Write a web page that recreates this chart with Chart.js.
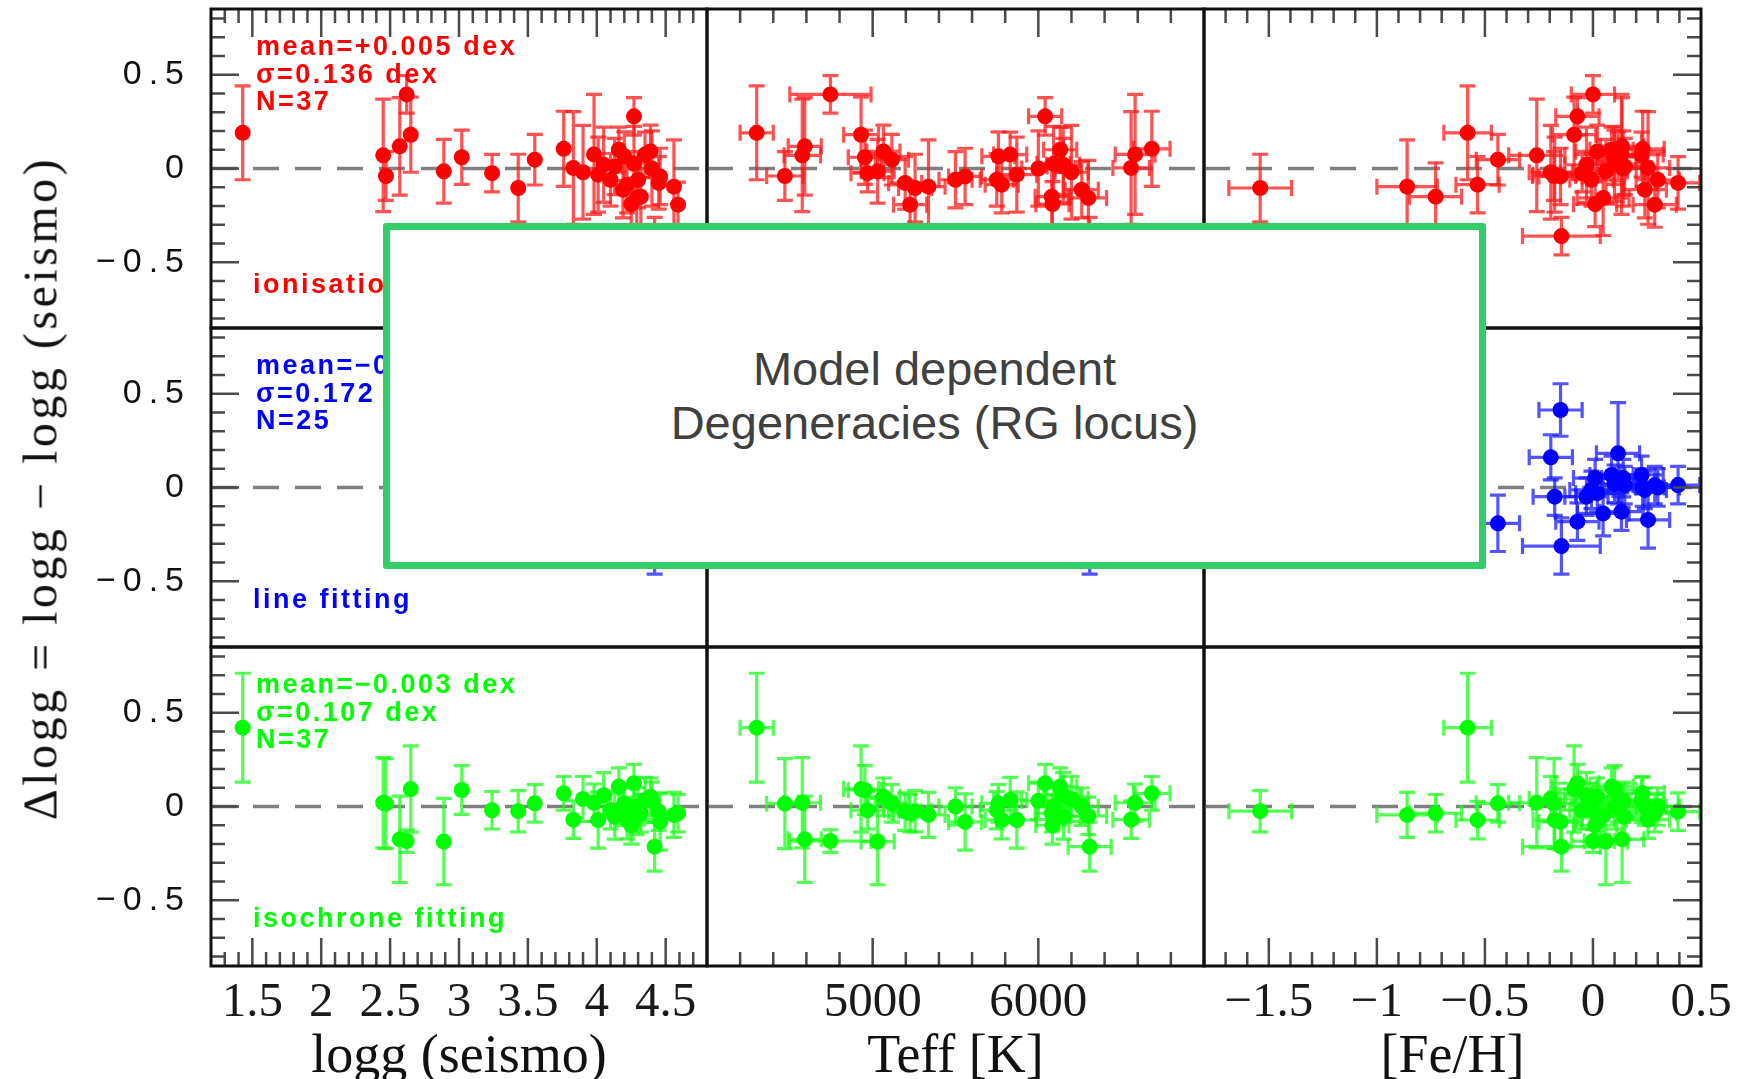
<!DOCTYPE html>
<html>
<head>
<meta charset="utf-8">
<script src="https://cdn.jsdelivr.net/npm/chart.js@4.4.1/dist/chart.umd.min.js"></script>
<style>
html,body{margin:0;padding:0;background:#fff;overflow:hidden;}
#wrap{position:relative;width:1742px;height:1079px;background:#fff;}
#wrap canvas{position:absolute;left:0;top:0;}
#ytitle{position:absolute;left:40px;top:488px;transform:translate(-50%,-50%) rotate(-90deg);font-family:"Liberation Serif";font-size:48px;letter-spacing:3.5px;white-space:nowrap;color:#111;z-index:5;}
#box{position:absolute;left:383px;top:223px;width:1103px;height:346px;box-sizing:border-box;border:7px solid #33cc66;border-radius:3px;background:#fff;display:flex;align-items:center;justify-content:center;text-align:center;font-family:"Liberation Sans";font-size:47px;line-height:54px;color:#404040;z-index:10;}
</style>
</head>
<body>
<div id="wrap">
  <div id="ytitle">Δlogg = logg − logg (seismo)</div>
  <div id="box"><div>Model dependent<br>Degeneracies (RG locus)</div></div>
</div>
<script>
// ---------------- DATA (one entry per star) ----------------
const logg    = [1.43,2.45,2.47,2.57,2.62,2.65,2.89,3.02,3.24,3.43,3.55,3.76,3.83,3.98,4.01,4.16,4.27,4.39,4.13,4.19,4.27,4.29,4.32,4.46,4.56,4.59,4.42,4.10,4.20,4.35,4.22,4.45,3.90,4.05,4.25,4.30,4.40];
const teff    = [4300,4575,4470,4590,4745,4930,5030,4953,4969,5256,5116,6685,6560,6584,5870,6132,6041,5065,6152,6262,6092,6302,6081,5558,5337,5226,6310,5749,5759,5830,5779,5196,6200,6150,6085,5500,6000];
const teffErr = [100,110,110,100,245,105,100,100,100,100,100,110,110,120,120,100,100,100,100,100,100,110,100,100,100,100,130,100,100,100,100,100,100,100,100,100,100];
const feh     = [-0.58,-0.26,-0.18,0.135,0.00,-0.087,0.06,0.10,-0.05,-1.54,-0.44,0.23,0.255,0.132,-0.177,0.086,-0.072,0.02,0.147,0.24,0.10,0.047,-0.728,-0.15,-0.86,0.286,-0.146,-0.007,0.116,0.225,-0.534,0.394,-0.195,-0.03,0.01,0.30,0.14];
const fehErr  = [0.11,0.13,0.10,0.10,0.10,0.10,0.10,0.10,0.10,0.145,0.10,0.10,0.10,0.10,0.10,0.10,0.10,0.10,0.10,0.10,0.10,0.12,0.12,0.10,0.14,0.10,0.18,0.10,0.10,0.10,0.10,0.10,0.10,0.10,0.10,0.10,0.10];
// Δlogg, ionisation balance (red)
const dIon    = [0.19,0.07,-0.04,0.118,0.395,0.18,-0.015,0.06,-0.025,-0.104,0.047,0.105,0.003,0.075,-0.033,0.10,0.278,0.091,0.011,-0.113,0.025,-0.157,-0.15,-0.042,-0.097,-0.193,-0.36,-0.06,0.065,0.074,-0.086,-0.077,-0.02,0.02,-0.19,-0.06,0.0];
const dIonErr = [0.25,0.30,0.13,0.26,0.10,0.20,0.17,0.145,0.10,0.18,0.135,0.20,0.30,0.32,0.20,0.12,0.10,0.14,0.15,0.15,0.20,0.20,0.18,0.15,0.25,0.12,0.10,0.14,0.13,0.12,0.15,0.14,0.25,0.20,0.12,0.15,0.20];
// Δlogg, line fitting (blue), null = not in subset
const dLine   = [null,null,null,null,null,null,null,null,null,null,-0.191,0.0,-0.173,-0.129,-0.049,0.067,-0.182,-0.03,0.013,-0.013,0.02,-0.138,-0.10,0.413,null,0.013,-0.312,-0.013,0.182,0.067,null,0.013,0.161,-0.049,0.05,0.0,0.05];
const dLineErr= [null,null,null,null,null,null,null,null,null,null,0.15,0.10,0.15,0.10,0.10,0.10,0.10,0.10,0.10,0.10,0.10,0.12,0.12,0.14,null,0.10,0.15,0.10,0.27,0.10,null,0.10,0.12,0.10,0.10,0.10,0.10];
// Δlogg, isochrone fitting (green)
const dIso    = [0.42,0.02,0.015,-0.175,-0.184,0.093,-0.187,0.088,-0.02,-0.025,0.017,0.07,-0.07,0.02,-0.072,0.106,0.124,0.052,-0.054,-0.001,-0.001,-0.05,-0.036,-0.082,-0.045,-0.036,-0.214,-0.019,0.017,0.035,-0.072,-0.027,0.04,0.06,-0.10,0.0,0.03];
const dIsoErr = [0.29,0.24,0.24,0.23,0.06,0.23,0.23,0.13,0.10,0.11,0.10,0.09,0.10,0.10,0.15,0.10,0.10,0.10,0.12,0.10,0.12,0.10,0.10,0.15,0.12,0.10,0.13,0.10,0.10,0.12,0.10,0.10,0.12,0.12,0.10,0.10,0.10];

// ---------------- TICKS / LABELS ----------------
const loggTicks = [1.5,2,2.5,3,3.5,4,4.5];
const loggTickLabels = ['1.5','2','2.5','3','3.5','4','4.5'];
const teffTicks = [5000,6000];
const teffTickLabels = ['5000','6000'];
const fehTicks = [-1.5,-1,-0.5,0,0.5];
const fehTickLabels = ['−1.5','−1','−0.5','0','0.5'];
const yTicks = [-0.5,0,0.5];
const yTickLabels = ['−0.5','0','0.5'];
const xTitles = ['logg (seismo)','Teff [K]','[Fe/H]'];
const ionNotes  = ['mean=+0.005 dex','σ=0.136 dex','N=37','ionisation balance'];
const lineNotes = ['mean=−0.046 dex','σ=0.172 dex','N=25','line fitting'];
const isoNotes  = ['mean=−0.003 dex','σ=0.107 dex','N=37','isochrone fitting'];

// ---------------- LAYOUT / STYLE ----------------
const W = 1742, H = 1079;
const colEdges = [211, 707, 1204, 1701];
const rowEdges = [9, 328, 647, 966];
const xAxes = [
  {min:1.2, max:4.8, major:loggTicks, labels:loggTickLabels, minorStep:0.1, vals:logg, errs:null},
  {min:4000, max:7000, major:teffTicks, labels:teffTickLabels, minorStep:200, vals:teff, errs:teffErr},
  {min:-1.8, max:0.5, major:fehTicks, labels:fehTickLabels, minorStep:0.1, vals:feh, errs:fehErr}
];
const rowsDef = [
  {y:dIon, e:dIonErr, color:'#ff0000', bar:'rgba(255,25,25,0.75)', notes:ionNotes, noteBase:284},
  {y:dLine, e:dLineErr, color:'#0000ff', bar:'rgba(25,25,255,0.75)', notes:lineNotes, noteBase:280},
  {y:dIso, e:dIsoErr, color:'#00ff00', bar:'rgba(25,255,25,0.75)', notes:isoNotes, noteBase:280}
];

function stepVals(min, max, step) {
  const out = [];
  const n = Math.round((max - min) / step);
  for (let k = 1; k < n; k++) out.push(min + k * step);
  return out;
}

const panelPlugin = {
  id: 'panel',
  beforeDraw(chart, args, o) {
    chart.ctx.letterSpacing = o.ySpacing;
  },
  beforeDatasetsDraw(chart, args, o) {
    const ctx = chart.ctx;
    ctx.letterSpacing = '0px';
    const {left, right, top, bottom} = chart.chartArea;
    const xs = chart.scales.x, ys = chart.scales.y;
    ctx.save();
    ctx.beginPath(); ctx.rect(left, top, right - left, bottom - top); ctx.clip();
    const y0 = ys.getPixelForValue(0);
    ctx.setLineDash([26, 16]); ctx.lineDashOffset = 0;
    ctx.strokeStyle = '#808080'; ctx.lineWidth = 3.5;
    ctx.beginPath(); ctx.moveTo(left, y0); ctx.lineTo(right, y0); ctx.stroke();
    ctx.setLineDash([]);
    chart.data.datasets.forEach((ds) => {
      ctx.strokeStyle = ds.barColor; ctx.lineWidth = 3.2;
      ds.data.forEach((p) => {
        const px = xs.getPixelForValue(p.x), py = ys.getPixelForValue(p.y);
        ctx.beginPath();
        if (p.ye) {
          const a = ys.getPixelForValue(p.y + p.ye), b = ys.getPixelForValue(p.y - p.ye);
          ctx.moveTo(px, a); ctx.lineTo(px, b);
          ctx.moveTo(px - 8, a); ctx.lineTo(px + 8, a);
          ctx.moveTo(px - 8, b); ctx.lineTo(px + 8, b);
        }
        if (p.xe) {
          const a = xs.getPixelForValue(p.x - p.xe), b = xs.getPixelForValue(p.x + p.xe);
          ctx.moveTo(a, py); ctx.lineTo(b, py);
          ctx.moveTo(a, py - 8); ctx.lineTo(a, py + 8);
          ctx.moveTo(b, py - 8); ctx.lineTo(b, py + 8);
        }
        ctx.stroke();
      });
    });
    ctx.restore();
  },
  afterDraw(chart, args, o) {
    const ctx = chart.ctx;
    const {left, right, top, bottom} = chart.chartArea;
    const xs = chart.scales.x, ys = chart.scales.y;
    const ax = o.ax;
    ctx.save();
    ctx.letterSpacing = '0px';
    ctx.strokeStyle = '#4a4a4a'; ctx.lineWidth = 2.5;
    ctx.beginPath();
    const xMinor = stepVals(ax.min, ax.max, ax.minorStep);
    const yMinorVals = [];
    for (let k = -8; k <= 8; k++) yMinorVals.push(k / 10);
    function xTick(v, len) {
      const px = xs.getPixelForValue(v);
      if (o.edges.top) { ctx.moveTo(px, top); ctx.lineTo(px, top + len); }
      if (o.edges.bottom) { ctx.moveTo(px, bottom); ctx.lineTo(px, bottom - len); }
    }
    function yTick(v, len) {
      const py = ys.getPixelForValue(v);
      if (o.edges.left) { ctx.moveTo(left, py); ctx.lineTo(left + len, py); }
      if (o.edges.right) { ctx.moveTo(right, py); ctx.lineTo(right - len, py); }
    }
    xMinor.forEach(v => xTick(v, 14));
    ax.major.forEach(v => { if (v > ax.min && v < ax.max) xTick(v, 28); });
    yMinorVals.forEach(v => yTick(v, 14));
    yTicks.forEach(v => yTick(v, 28));
    ctx.stroke();
    ctx.strokeStyle = '#111'; ctx.lineWidth = 3;
    ctx.strokeRect(left, top, right - left, bottom - top);
    if (o.notes) {
      ctx.fillStyle = o.color;
      ctx.font = 'bold 27px "Liberation Sans"';
      ctx.letterSpacing = '2.5px';
      ctx.textBaseline = 'alphabetic';
      ctx.textAlign = 'left';
      const bl = [46, 73.5, 101];
      for (let k = 0; k < 3; k++) ctx.fillText(o.notes[k], left + 45, top + bl[k]);
      ctx.fillText(o.notes[3], left + 42, top + o.noteBase);
    }
    ctx.restore();
  }
};

function makePoints(xArr, xErrArr, yArr, yErrArr) {
  const pts = [];
  for (let i = 0; i < yArr.length; i++) {
    if (yArr[i] === null) continue;
    pts.push({x: xArr[i], y: yArr[i], xe: xErrArr ? xErrArr[i] : 0, ye: yErrArr[i]});
  }
  return pts;
}

const wrap = document.getElementById('wrap');
const firstOverlay = document.getElementById('ytitle');
for (let r = 0; r < 3; r++) {
  for (let c = 0; c < 3; c++) {
    const ax = xAxes[c], row = rowsDef[r];
    const showX = r === 2, showY = c === 0;
    const cv = document.createElement('canvas');
    cv.width = W; cv.height = H;
    cv.style.width = W + 'px'; cv.style.height = H + 'px';
    wrap.insertBefore(cv, firstOverlay);
    new Chart(cv.getContext('2d'), {
      type: 'scatter',
      data: {
        datasets: [{
          data: makePoints(ax.vals, ax.errs, row.y, row.e),
          pointRadius: 8, pointHoverRadius: 8, pointBorderWidth: 0,
          pointBackgroundColor: row.color, barColor: row.bar
        }]
      },
      options: {
        responsive: false, animation: false, events: [], devicePixelRatio: 1,
        layout: { padding: {
          left: showY ? 0 : colEdges[c],
          right: W - colEdges[c + 1],
          top: rowEdges[r],
          bottom: showX ? 0 : H - rowEdges[r + 1]
        }},
        scales: {
          x: {
            type: 'linear', min: ax.min, max: ax.max, bounds: 'data', position: 'bottom',
            display: showX,
            grid: { display: false, drawTicks: false, z: 1 },
            border: { display: false },
            ticks: { autoSkip: false, maxRotation: 0, minRotation: 0, padding: 8, z: 1, color: '#1a1a1a',
              font: { family: '"Liberation Serif"', size: 49 },
              callback: (v, i) => ax.labels[i] },
            title: { display: true, text: xTitles[c], color: '#111',
              font: { family: '"Liberation Serif"', size: 54, lineHeight: 0.78 }, padding: { top: 0, bottom: 0 } },
            afterBuildTicks: (s) => { s.ticks = ax.major.map(v => ({ value: v })); },
            afterFit: (s) => { if (showX) { s.height = H - rowEdges[3]; } s.paddingLeft = 0; s.paddingRight = 0; s.paddingTop = 0; s.paddingBottom = 0; }
          },
          y: {
            type: 'linear', min: -0.85, max: 0.85, bounds: 'data', position: 'left',
            display: showY,
            grid: { display: false, drawTicks: false },
            border: { display: false },
            ticks: { autoSkip: false, padding: 20, color: '#111',
              font: { family: '"Liberation Sans"', size: 34 },
              callback: (v, i) => yTickLabels[i] },
            afterBuildTicks: (s) => { s.ticks = yTicks.map(v => ({ value: v })); },
            afterFit: (s) => { if (showY) { s.width = colEdges[0]; } s.paddingLeft = 0; s.paddingRight = 0; s.paddingTop = 0; s.paddingBottom = 0; }
          }
        },
        plugins: {
          legend: { display: false },
          tooltip: { enabled: false },
          panel: {
            ax: ax,
            ySpacing: '7px',
            edges: { top: r === 0, bottom: r === 2, left: c === 0, right: c === 2 },
            notes: c === 0 ? row.notes : null,
            color: row.color,
            noteBase: row.noteBase
          }
        }
      },
      plugins: [panelPlugin]
    });
  }
}
</script>
</body>
</html>
